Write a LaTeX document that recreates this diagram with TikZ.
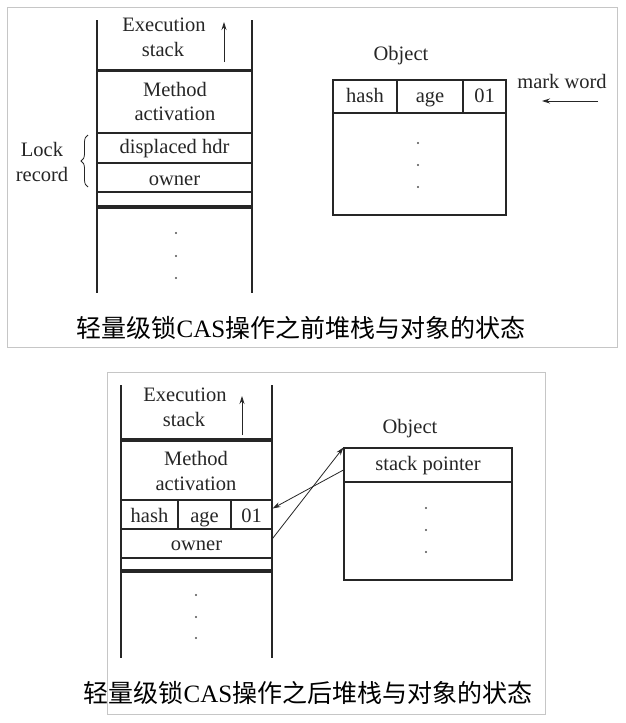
\documentclass[tikz,border=0pt]{standalone}
\usepackage{fontspec}
\setmainfont{Liberation Serif}
\newfontfamily\cjk{Noto Sans CJK SC}
\usetikzlibrary{arrows.meta,decorations.pathreplacing}
\definecolor{ink}{HTML}{262626}
\definecolor{framec}{HTML}{C6C6C6}
\tikzset{
  lbl/.style={inner sep=0pt, anchor=base, text=ink, font=\fontsize{20.5}{22}\selectfont},
  cell/.style={draw=ink, line width=1.1pt, inner sep=0pt, text=ink, font=\fontsize{20.5}{22}\selectfont, text depth=4pt, text height=#1},
  cell/.default=14pt,
  heavy/.style={draw=ink, line width=3.4pt},
  wall/.style={draw=ink, line width=1.2pt},
  caption/.style={inner sep=0pt, text=black, font=\fontsize{25}{27}\selectfont},
  pane/.style={draw=framec, line width=1pt},
  ptr/.style={draw=ink, line width=0.8pt, -{Stealth[length=8pt,width=5pt]}},
  dotm/.style={fill=ink!80},
}
\begin{document}
\begin{tikzpicture}[x=1pt,y=-1pt]
\useasboundingbox (0,0) rectangle (625,723);
\fill[white] (0,0) rectangle (625,723);

% ================= top panel =================
\draw[pane] (7,7) rectangle (617,347);
% stack walls
\draw[wall] (97,20) -- (97,293);
\draw[wall] (252,20) -- (252,293);
\draw[heavy] (97,70.5) -- (252,70.5);
\node[cell=14pt, minimum width=155, minimum height=30] (tdh) at (174.5,148) {displaced hdr};
\node[cell=20pt, minimum width=155, minimum height=29] (town) at (174.5,177.5) {owner};
\draw[wall, line width=1.1pt] (97,192) -- (252,192);
\draw[heavy] (97,207) -- (252,207);
\node[lbl] (texec) at (164,31.7) {Execution};
\node[lbl] (tstk) at (163,56.7) {stack};
\coordinate (tarrA) at (224,62);
\coordinate (tarrB) at (224,22);
\draw[ptr] (tarrA) -- (tarrB);
\node[lbl] (tmeth) at (175,96.5) {Method};
\node[lbl] (tact) at (175,120.5) {activation};
\fill[dotm] (176,233) circle (1.2);
\fill[dotm] (176,256) circle (1.2);
\fill[dotm] (176,278) circle (1.2);
% lock record
\node[lbl] (tlock) at (42,156.5) {Lock};
\node[lbl] (trec) at (42,181.5) {record};
\draw[draw=ink, line width=0.8pt, decorate, decoration={brace, amplitude=7pt, aspect=0.5}] (88,187) -- (88,135);
% object
\node[lbl] (tobjl) at (401,60.5) {Object};
\node[cell=15pt, minimum width=64, minimum height=33] (thash) at (365,96.5) {hash};
\node[cell=15pt, minimum width=66, minimum height=33] (tage) at (430,96.5) {age};
\node[cell=16pt, minimum width=43, minimum height=33] (t01) at (484.5,96.5) {01};
\node[cell, minimum width=173, minimum height=102] (tbody) at (419.5,164) {};
\fill[dotm] (418,143) circle (1.1);
\fill[dotm] (418,165) circle (1.1);
\fill[dotm] (418,187) circle (1.1);
\node[lbl] (tmark) at (562,88) {mark word};
\coordinate (tmA) at (598,101);
\coordinate (tmB) at (542,101);
\draw[ptr] (tmA) -- (tmB);
\node[caption] (tcap) at (301,328) {{\cjk 轻量级锁}CAS{\cjk 操作之前堆栈与对象的状态}};

% ================= bottom panel =================
\draw[pane] (107,372) rectangle (545,714);
\draw[wall] (121,385) -- (121,658);
\draw[wall] (272,385) -- (272,658);
\draw[heavy] (121,440) -- (272,440);
\node[lbl] (bexec) at (185,401.5) {Execution};
\node[lbl] (bstk) at (184,426.5) {stack};
\coordinate (barrA) at (242,435);
\coordinate (barrB) at (242,396);
\draw[ptr] (barrA) -- (barrB);
\node[lbl] (bmeth) at (196,465) {Method};
\node[lbl] (bact) at (196,490) {activation};
\node[cell=19pt, minimum width=57, minimum height=29] (bhash) at (149.5,514.5) {hash};
\node[cell=19pt, minimum width=53, minimum height=29] (bage) at (204.5,514.5) {age};
\node[cell=19pt, minimum width=41, minimum height=29] (b01) at (251.5,514.5) {01};
\node[cell=18pt, minimum width=151, minimum height=29] (bown) at (196.5,543.5) {owner};
\draw[wall, line width=1.1pt] (121,558) -- (272,558);
\draw[heavy] (121,571) -- (272,571);
\fill[dotm] (196,595) circle (1.2);
\fill[dotm] (196,617) circle (1.2);
\fill[dotm] (196,638) circle (1.2);
% object
\node[lbl] (bobjl) at (410,433.3) {Object};
\node[cell=14pt, minimum width=168, minimum height=34] (bsp) at (428,465) {stack pointer};
\node[cell, minimum width=168, minimum height=98] (bbody) at (428,531) {};
\fill[dotm] (426,508) circle (1.1);
\fill[dotm] (426,530) circle (1.1);
\fill[dotm] (426,552) circle (1.1);
% pointers
\draw[ptr] ([yshift=5pt]bown.east) -- (bsp.north west);
\draw[ptr] ([yshift=-5pt]bsp.west) -- ([yshift=6pt]b01.east);
\node[caption] (bcap) at (308,693) {{\cjk 轻量级锁}CAS{\cjk 操作之后堆栈与对象的状态}};
\end{tikzpicture}
\end{document}
